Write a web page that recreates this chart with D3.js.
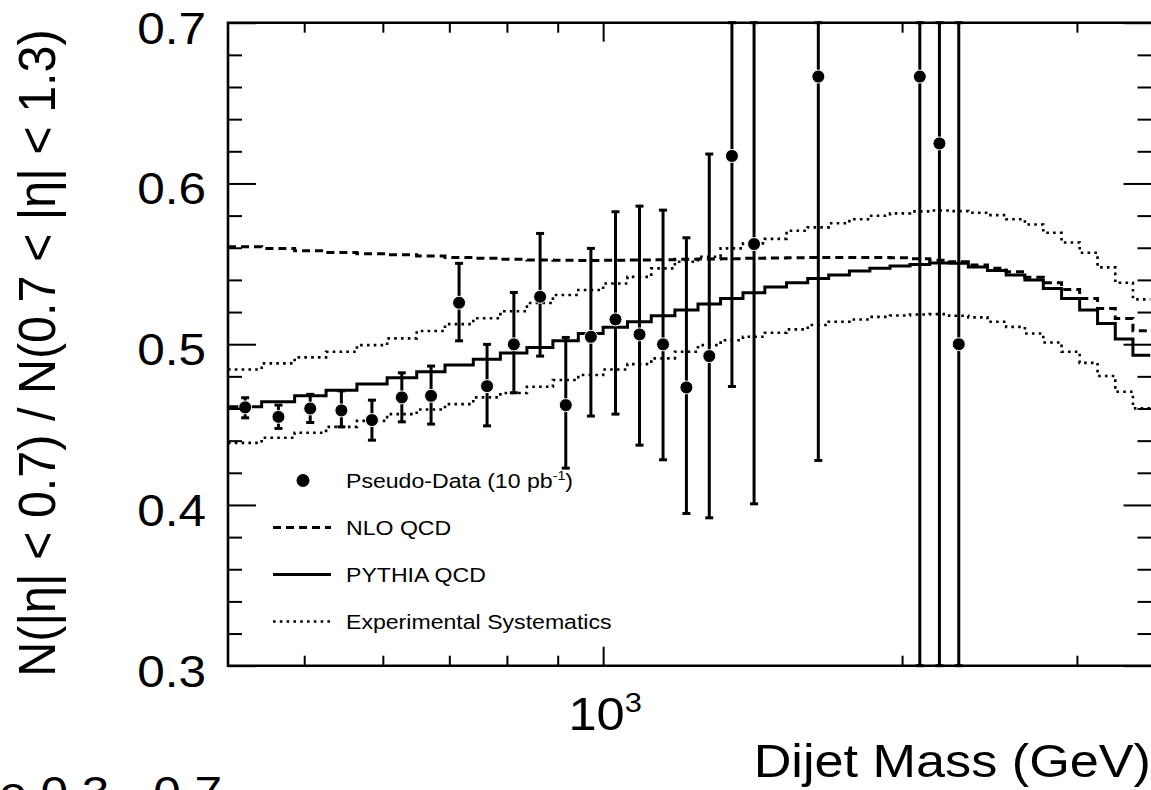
<!DOCTYPE html>
<html>
<head>
<meta charset="utf-8">
<script src="https://cdn.jsdelivr.net/npm/d3@7"></script>
<style>
  body { margin: 0; background: #fff; overflow: hidden; }
  svg { display: block; font-family: "Liberation Sans", Arial, Helvetica, sans-serif; }
</style>
</head>
<body>
<svg id="drawing_region"></svg>
<script>
// dijet mass bin edges (GeV)
const bin_edges = [419, 453, 489, 526, 565, 606, 649, 693, 740, 788, 838, 890, 944, 1000, 1058, 1118, 1181, 1246,
    1313, 1383, 1455, 1530, 1607, 1687, 1770, 1856, 1945, 2037, 2132, 2231, 2332, 2438, 2546, 2659, 2775, 2895,
    3019, 3147, 3279, 3416, 3558];

// one value per bin
const pythia_qcd = [0.4611, 0.4642, 0.4679, 0.4714, 0.4752, 0.4791, 0.4828, 0.4870, 0.4907, 0.4945,
    0.4980, 0.5021, 0.5067, 0.5105, 0.5140, 0.5177, 0.5212, 0.5250, 0.5285, 0.5320,
    0.5356, 0.5382, 0.5409, 0.5430, 0.5455, 0.5472, 0.5486, 0.5496, 0.5505, 0.5503,
    0.5480, 0.5458, 0.5430, 0.5399, 0.5347, 0.5285, 0.5212, 0.5129, 0.5032, 0.4932];
const nlo_qcd = [0.5606, 0.5596, 0.5581, 0.5571, 0.5563, 0.5556, 0.5548, 0.5540, 0.5534, 0.5528,
    0.5524, 0.5522, 0.5521, 0.5522, 0.5524, 0.5526, 0.5528, 0.5530, 0.5532, 0.5534,
    0.5536, 0.5538, 0.5540, 0.5540, 0.5540, 0.5540, 0.5538, 0.5532, 0.5523, 0.5513,
    0.5492, 0.5472, 0.5451, 0.5416, 0.5382, 0.5341, 0.5285, 0.5222, 0.5160, 0.5083];
const sys_up = [0.4843, 0.4881, 0.4918, 0.4953, 0.4994, 0.5036, 0.5082, 0.5125, 0.5161, 0.5205,
    0.5256, 0.5306, 0.5337, 0.5378, 0.5419, 0.5472, 0.5513, 0.5544, 0.5596, 0.5627,
    0.5655, 0.5706, 0.5727, 0.5752, 0.5777, 0.5799, 0.5814, 0.5826, 0.5832, 0.5828,
    0.5818, 0.5803, 0.5777, 0.5745, 0.5693, 0.5633, 0.5569, 0.5478, 0.5382, 0.5279];
const sys_down = [0.4386, 0.4418, 0.4449, 0.4486, 0.4523, 0.4565, 0.4594, 0.4627, 0.4669, 0.4696,
    0.4735, 0.4777, 0.4808, 0.4843, 0.4876, 0.4912, 0.4953, 0.4994, 0.5025, 0.5046,
    0.5071, 0.5092, 0.5119, 0.5140, 0.5154, 0.5170, 0.5179, 0.5185, 0.5187, 0.5177,
    0.5167, 0.5140, 0.5108, 0.5067, 0.5011, 0.4953, 0.4884, 0.4802, 0.4704, 0.4601];

// pseudo-data points
const data_mass = [436, 471, 507, 545, 585, 627, 671, 716, 764, 813, 864, 917, 972, 1029, 1088, 1149,
    1213, 1279, 1348, 1419, 1647, 2084, 2181, 2281];
const data_ratio = [0.4607, 0.4548, 0.4600, 0.4588, 0.4528, 0.4669, 0.4679, 0.5258, 0.4739, 0.4999,
    0.5295, 0.4621, 0.5046, 0.5154, 0.5061, 0.4999, 0.4731, 0.4926, 0.6171, 0.5623,
    0.6665, 0.6665, 0.6249, 0.5000];
const data_err_down = [0.0065, 0.0072, 0.0087, 0.0102, 0.0125, 0.0152, 0.0176, 0.0237, 0.0247, 0.0301,
    0.0369, 0.0392, 0.0493, 0.0589, 0.0689, 0.0718, 0.0784, 0.1006, 0.1434, 0.1616,
    0.2388, 0.40, 0.40, 0.30];
const data_err_up = [0.0060, 0.0073, 0.0088, 0.0122, 0.0124, 0.0153, 0.0185, 0.0245, 0.0260, 0.0323,
    0.0394, 0.0421, 0.0550, 0.0670, 0.0798, 0.0835, 0.0931, 0.1257, 0.17, 0.19,
    0.27, 0.45, 0.45, 0.35];

// axis ticks
const y_major = [0.3, 0.4, 0.5, 0.6, 0.7];
const x_minor = [500, 600, 700, 800, 900, 2000, 3000];
const x_major = [1000];

const legend_labels = ['Pseudo-Data (10 pb', 'NLO QCD', 'PYTHIA QCD', 'Experimental Systematics'];

const SX = 1.1; // text in the picture is a bit wide

const config = {
    parent: '#drawing_region',
    width: 1151,
    height: 790,
    plot: {left: 228, right: 1150.5, top: 22.7, bottom: 665.7}
};

const svg = d3.select(config.parent)
    .attr('width', config.width)
    .attr('height', config.height);

const xscale = d3.scaleLog()
    .domain([bin_edges[0], bin_edges[bin_edges.length - 1]])
    .range([config.plot.left, config.plot.right]);

const yscale = d3.scaleLinear()
    .domain([0.3, 0.7])
    .range([config.plot.bottom, config.plot.top]);

const plot_w = config.plot.right - config.plot.left;
const plot_h = config.plot.bottom - config.plot.top;

svg.append('clipPath').attr('id', 'plot_clip')
    .append('rect')
    .attr('x', config.plot.left)
    .attr('y', config.plot.top)
    .attr('width', plot_w)
    .attr('height', plot_h);

function stext(parent, x, y, size, anchor, sx) {
    return parent.append('text')
        .attr('transform', `translate(${x},${y}) scale(${sx || SX},1)`)
        .attr('text-anchor', anchor)
        .attr('font-size', size)
        .attr('fill', '#000');
}

// --- histograms
const step_line = d3.line()
    .x(d => xscale(d[0]))
    .y(d => yscale(d[1]))
    .curve(d3.curveStepAfter);

function hist_points(values) {
    const pts = values.map((v, i) => [bin_edges[i], v]);
    pts.push([bin_edges[bin_edges.length - 1], values[values.length - 1]]);
    return pts;
}

const curves = svg.append('g').attr('clip-path', 'url(#plot_clip)');
const line_styles = {
    solid: {width: 3, dash: null},
    dashed: {width: 3, dash: '8,5'},
    dotted: {width: 2.6, dash: '2.6,4.2'}
};

[[sys_up, 'dotted'], [sys_down, 'dotted'], [nlo_qcd, 'dashed'], [pythia_qcd, 'solid']].forEach(([vals, st]) => {
    curves.append('path')
        .attr('d', step_line(hist_points(vals)))
        .attr('fill', 'none')
        .attr('stroke', '#000')
        .attr('stroke-width', line_styles[st].width)
        .attr('stroke-dasharray', line_styles[st].dash);
});

// --- pseudo-data
const points = data_mass.map((m, i) => ({
    x: m, y: data_ratio[i],
    lo: Math.max(0.3, data_ratio[i] - data_err_down[i]),
    hi: Math.min(0.7, data_ratio[i] + data_err_up[i])
}));

const pts_g = svg.append('g');
pts_g.selectAll('line.err')
    .data(points)
    .join('line')
    .attr('class', 'err')
    .attr('x1', d => xscale(d.x)).attr('x2', d => xscale(d.x))
    .attr('y1', d => yscale(d.lo)).attr('y2', d => yscale(d.hi))
    .attr('stroke', '#000').attr('stroke-width', 3);

const caps = points.flatMap(d => [{x: d.x, y: d.lo}, {x: d.x, y: d.hi}]);
pts_g.selectAll('line.cap')
    .data(caps)
    .join('line')
    .attr('class', 'cap')
    .attr('x1', d => xscale(d.x) - 4).attr('x2', d => xscale(d.x) + 4)
    .attr('y1', d => yscale(d.y)).attr('y2', d => yscale(d.y))
    .attr('stroke', '#000').attr('stroke-width', 3);

pts_g.selectAll('circle')
    .data(points)
    .join('circle')
    .attr('cx', d => xscale(d.x))
    .attr('cy', d => yscale(d.y))
    .attr('r', 6.5)
    .attr('fill', '#000')
    .attr('stroke', '#fff')
    .attr('stroke-width', 1);

// --- axes (ticks point inward on all four sides)
const axes = svg.append('g');
const y_minor = d3.range(21).map(i => 0.3 + i * 0.02).filter((v, i) => i % 5 !== 0);

function tick_group(axis, tx, ty) {
    const g = axes.append('g').attr('transform', `translate(${tx},${ty})`).call(axis);
    g.select('.domain').remove();
    g.selectAll('.tick line').attr('stroke', '#000').attr('stroke-width', 2);
    g.selectAll('.tick text').remove();
}

tick_group(d3.axisLeft(yscale).tickValues(y_major).tickSize(-28), config.plot.left, 0);
tick_group(d3.axisLeft(yscale).tickValues(y_minor).tickSize(-14), config.plot.left, 0);
tick_group(d3.axisRight(yscale).tickValues(y_major).tickSize(-28), config.plot.right + 1, 0);
tick_group(d3.axisRight(yscale).tickValues(y_minor).tickSize(-14), config.plot.right + 1, 0);
tick_group(d3.axisBottom(xscale).tickValues(x_major).tickSize(-19), 0, config.plot.bottom);
tick_group(d3.axisBottom(xscale).tickValues(x_minor).tickSize(-10), 0, config.plot.bottom);
tick_group(d3.axisTop(xscale).tickValues(x_major).tickSize(-19), 0, config.plot.top);
tick_group(d3.axisTop(xscale).tickValues(x_minor).tickSize(-10), 0, config.plot.top);

// frame: left, top and bottom sides (the right side lies just past the picture edge)
const L = config.plot.left, T = config.plot.top, B = config.plot.bottom, R = config.width + 3;
axes.append('path')
    .attr('d', `M${R},${T}H${L}V${B}H${R}`)
    .attr('fill', 'none')
    .attr('stroke', '#000')
    .attr('stroke-width', 2.6);

// tick labels
y_major.forEach(v => {
    stext(svg, 206, yscale(v) + 21, 45, 'end').text(d3.format('.1f')(v));
});

x_major.forEach(v => {
    const t = stext(svg, xscale(v) + 2, 730, 46, 'middle');
    t.append('tspan').text('10');
    t.append('tspan').attr('font-size', 28).attr('dy', -18).text(Math.round(Math.log10(v)));
});

// axis titles
stext(svg, 1151, 777, 46, 'end', 1.135).text('Dijet Mass (GeV)');

svg.append('text')
    .attr('transform', `translate(55,353) rotate(-90) scale(1,1.07)`)
    .attr('text-anchor', 'middle')
    .attr('font-size', 48.5)
    .text('N(|η| < 0.7) / N(0.7 < |η| < 1.3)');

stext(svg, 222, 808, 45, 'end').text('ve 0.3 - 0.7');

// --- legend
const legend = svg.append('g');
const leg_base = [488, 535, 582, 629];
const leg_styles = ['marker', 'dashed', 'solid', 'dotted'];

legend_labels.forEach((label, i) => {
    const yy = leg_base[i] - 7.5;
    if (leg_styles[i] === 'marker') {
        legend.append('circle')
            .attr('cx', 303).attr('cy', yy).attr('r', 6.5).attr('fill', '#000');
    } else {
        legend.append('line')
            .attr('x1', 273).attr('x2', 331)
            .attr('y1', yy).attr('y2', yy)
            .attr('stroke', '#000')
            .attr('stroke-width', line_styles[leg_styles[i]].width)
            .attr('stroke-dasharray', line_styles[leg_styles[i]].dash);
    }
    const t = stext(legend, 346, leg_base[i], 21, 'start');
    t.append('tspan').text(label);
    if (i === 0) {
        t.append('tspan').attr('font-size', 13).attr('dy', -8).text('-1');
        t.append('tspan').attr('dy', 8).text(')');
    }
});
</script>
</body>
</html>
